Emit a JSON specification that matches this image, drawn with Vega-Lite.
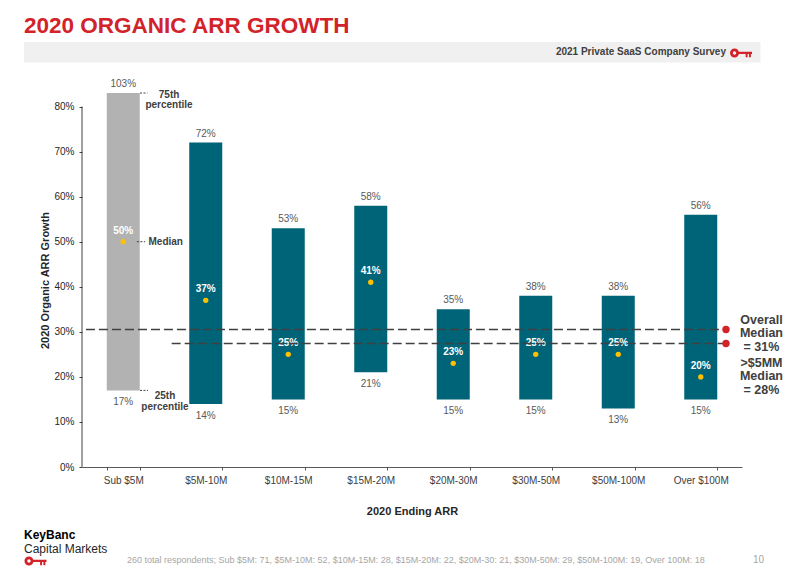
{
  "$schema": "https://vega.github.io/schema/vega-lite/v6.json",
  "width": 660,
  "height": 374,
  "autosize": {"type": "none"},
  "padding": {"left": 82, "top": 93, "right": 50, "bottom": 106},
  "background": "white",
  "config": {
    "view": {"stroke": null},
    "font": "Liberation Sans, Arial, sans-serif"
  },
  "layer": [
    {
      "data": {
        "values": [
          {"arr": "Sub $5M", "low": 0.17, "high": 1.03, "median": 0.50},
          {"arr": "$5M-10M", "low": 0.14, "high": 0.72, "median": 0.37},
          {"arr": "$10M-15M", "low": 0.15, "high": 0.53, "median": 0.25},
          {"arr": "$15M-20M", "low": 0.21, "high": 0.58, "median": 0.41},
          {"arr": "$20M-30M", "low": 0.15, "high": 0.35, "median": 0.23},
          {"arr": "$30M-50M", "low": 0.15, "high": 0.38, "median": 0.25},
          {"arr": "$50M-100M", "low": 0.13, "high": 0.38, "median": 0.25},
          {"arr": "Over $100M", "low": 0.15, "high": 0.56, "median": 0.20}
        ]
      },
      "encoding": {
        "x": {
          "field": "arr",
          "type": "nominal",
          "sort": null,
          "scale": {"paddingInner": 0.6, "paddingOuter": 0.3},
          "axis": {
            "title": "2020 Ending ARR",
            "labelAngle": 0,
            "tickBand": "extent",
            "tickSize": 3,
            "tickColor": "#595959",
            "domainColor": "#595959",
            "labelPadding": 5,
            "labelFontSize": 10,
            "labelColor": "#404040",
            "titleFontSize": 11,
            "titleFontWeight": "bold",
            "titleColor": "#262626",
            "titlePadding": 20
          }
        }
      },
      "layer": [
        {
          "mark": {"type": "bar"},
          "encoding": {
            "y": {
              "field": "low",
              "type": "quantitative",
              "scale": {"domain": [0, 0.83], "clamp": true, "nice": false, "zero": false},
              "axis": {
                "title": "2020 Organic ARR Growth",
                "values": [0, 0.1, 0.2, 0.3, 0.4, 0.5, 0.6, 0.7, 0.8],
                "format": ".0%",
                "domain": false,
                "grid": false,
                "tickSize": 3,
                "tickColor": "#404040",
                "labelPadding": 5,
                "labelFontSize": 10,
                "labelColor": "#262626",
                "titleFontSize": 11,
                "titleFontWeight": "bold",
                "titleColor": "#262626",
                "titlePadding": 3
              }
            },
            "y2": {"field": "high"},
            "color": {
              "condition": {"test": "datum.arr === 'Sub $5M'", "value": "#B2B2B2"},
              "value": "#006479"
            }
          }
        },
        {
          "mark": {"type": "text", "baseline": "bottom", "dy": -4, "fontSize": 10, "color": "#595959"},
          "encoding": {
            "y": {"field": "high", "type": "quantitative", "scale": {"domain": [0, 0.83], "clamp": true, "nice": false, "zero": false}},
            "text": {"field": "high", "type": "quantitative", "format": ".0%"}
          }
        },
        {
          "mark": {"type": "text", "baseline": "top", "dy": 7, "fontSize": 10, "color": "#595959"},
          "encoding": {
            "y": {"field": "low", "type": "quantitative", "scale": {"domain": [0, 0.83], "clamp": true, "nice": false, "zero": false}},
            "text": {"field": "low", "type": "quantitative", "format": ".0%"}
          }
        },
        {
          "mark": {"type": "circle", "size": 28, "color": "#FFC000", "opacity": 1},
          "encoding": {
            "y": {"field": "median", "type": "quantitative", "scale": {"domain": [0, 0.83], "clamp": true, "nice": false, "zero": false}}
          }
        },
        {
          "mark": {"type": "text", "baseline": "bottom", "dy": -6, "fontSize": 10, "fontWeight": "bold", "color": "white"},
          "encoding": {
            "y": {"field": "median", "type": "quantitative", "scale": {"domain": [0, 0.83], "clamp": true, "nice": false, "zero": false}},
            "text": {"field": "median", "type": "quantitative", "format": ".0%"}
          }
        }
      ]
    },
    {
      "encoding": {
        "x": {"field": "x", "type": "quantitative", "scale": {"domain": [0, 8], "nice": false, "zero": false}, "axis": null},
        "y": {"field": "y", "type": "quantitative", "scale": {"domain": [0, 0.83], "nice": false, "zero": false}, "axis": null}
      },
      "layer": [
        {
          "data": {"values": [{"x": -0.703, "x2": 8.224, "y": 0.9432, "y2": 0.8977}]},
          "mark": {"type": "rect", "color": "#F0F0F0", "clip": false},
          "encoding": {"x2": {"field": "x2"}, "y2": {"field": "y2"}}
        },
        {
          "data": {"values": [{"x": 0, "y": 0, "y2": 0.8}]},
          "mark": {"type": "rule", "color": "#404040", "strokeWidth": 1},
          "encoding": {"y2": {"field": "y2"}}
        },
        {
          "data": {"values": [
            {"name": "Overall median", "x": 0.048, "x2": 7.806, "y": 0.305},
            {"name": ">$5MM median", "x": 1.087, "x2": 7.806, "y": 0.274}
          ]},
          "mark": {"type": "rule", "color": "#404040", "strokeWidth": 1.5, "strokeDash": [9, 4]},
          "encoding": {"x2": {"field": "x2"}}
        },
        {
          "data": {"values": [
            {"name": "Overall median", "x": 7.806, "y": 0.305},
            {"name": ">$5MM median", "x": 7.806, "y": 0.274}
          ]},
          "mark": {"type": "circle", "size": 55, "color": "#D2232A", "opacity": 1, "clip": false}
        },
        {
          "data": {"values": [
            {"x": 0.703, "x2": 0.794, "y": 0.83},
            {"x": 0.665, "x2": 0.765, "y": 0.50},
            {"x": 0.703, "x2": 0.80, "y": 0.17}
          ]},
          "mark": {"type": "rule", "color": "#404040", "strokeWidth": 1, "strokeDash": [2, 1.5]},
          "encoding": {"x2": {"field": "x2"}}
        },
        {
          "data": {"values": [
            {"label": "75th\npercentile", "x": 1.055, "y": 0.8256},
            {"label": "25th\npercentile", "x": 1.006, "y": 0.1565}
          ]},
          "mark": {"type": "text", "align": "center", "baseline": "middle", "lineBreak": "\n", "lineHeight": 10.5, "fontSize": 10, "fontWeight": "bold", "color": "#404040"},
          "encoding": {"text": {"field": "label"}}
        },
        {
          "data": {"values": [{"label": "Median", "x": 0.806, "y": 0.50}]},
          "mark": {"type": "text", "align": "left", "baseline": "middle", "fontSize": 10, "fontWeight": "bold", "color": "#404040"},
          "encoding": {"text": {"field": "label"}}
        },
        {
          "data": {"values": [
            {"label": "Overall\nMedian\n= 31%", "x": 8.236, "y": 0.3262},
            {"label": ">$5MM\nMedian\n= 28%", "x": 8.236, "y": 0.2308}
          ]},
          "mark": {"type": "text", "align": "center", "baseline": "middle", "lineBreak": "\n", "lineHeight": 13.3, "fontSize": 12.5, "fontWeight": "bold", "color": "#404040", "clip": false},
          "encoding": {"text": {"field": "label"}}
        },
        {
          "data": {"values": [{"label": "2020 ORGANIC ARR GROWTH", "x": -0.703, "y": 0.9632}]},
          "mark": {"type": "text", "align": "left", "baseline": "alphabetic", "fontSize": 22.5, "fontWeight": "bold", "color": "#D2232A", "clip": false},
          "encoding": {"text": {"field": "label"}}
        },
        {
          "data": {"values": [{"label": "2021 Private SaaS Company Survey", "x": 7.806, "y": 0.9199}]},
          "mark": {"type": "text", "align": "right", "baseline": "middle", "fontSize": 10, "fontWeight": "bold", "color": "#404040", "clip": false},
          "encoding": {"text": {"field": "label"}}
        },
        {
          "data": {"values": [{"x": 7.988, "y": 0.9188}, {"x": -0.564, "y": -0.2086}]},
          "mark": {
            "type": "point",
            "shape": "M -1 0 A 0.41 0.41 0 1 1 -0.18 0 A 0.41 0.41 0 1 1 -1 0 Z M -0.74 0 A 0.15 0.15 0 1 0 -0.44 0 A 0.15 0.15 0 1 0 -0.74 0 Z M -0.22 -0.12 L 1 -0.12 L 1 0.1 L 0.9 0.1 L 0.9 0.38 L 0.72 0.38 L 0.72 0.1 L 0.6 0.1 L 0.6 0.38 L 0.42 0.38 L 0.42 0.1 L -0.22 0.1 Z",
            "filled": true,
            "color": "#D2232A",
            "opacity": 1,
            "strokeWidth": 0,
            "size": 484,
            "clip": false
          }
        },
        {
          "data": {"values": [{"label": "KeyBanc", "x": -0.703, "y": -0.1591}]},
          "mark": {"type": "text", "align": "left", "baseline": "alphabetic", "fontSize": 12, "fontWeight": "bold", "color": "#000000", "clip": false},
          "encoding": {"text": {"field": "label"}}
        },
        {
          "data": {"values": [{"label": "Capital Markets", "x": -0.703, "y": -0.1902}]},
          "mark": {"type": "text", "align": "left", "baseline": "alphabetic", "fontSize": 12, "color": "#262626", "clip": false},
          "encoding": {"text": {"field": "label"}}
        },
        {
          "data": {"values": [
            {"label": "260 total respondents; Sub $5M: 71, $5M-10M: 52, $10M-15M: 28, $15M-20M: 22, $20M-30: 21, $30M-50M: 29, $50M-100M: 19, Over 100M: 18", "x": 0.5455, "y": -0.2131}
          ]},
          "mark": {"type": "text", "align": "left", "baseline": "alphabetic", "fontSize": 9, "color": "#A6A6A6", "clip": false},
          "encoding": {"text": {"field": "label"}}
        },
        {
          "data": {"values": [{"label": "10", "x": 8.133, "y": -0.2131}]},
          "mark": {"type": "text", "align": "left", "baseline": "alphabetic", "fontSize": 10, "color": "#A6A6A6", "clip": false},
          "encoding": {"text": {"field": "label"}}
        }
      ]
    }
  ],
  "resolve": {"scale": {"x": "independent", "y": "independent"}}
}
